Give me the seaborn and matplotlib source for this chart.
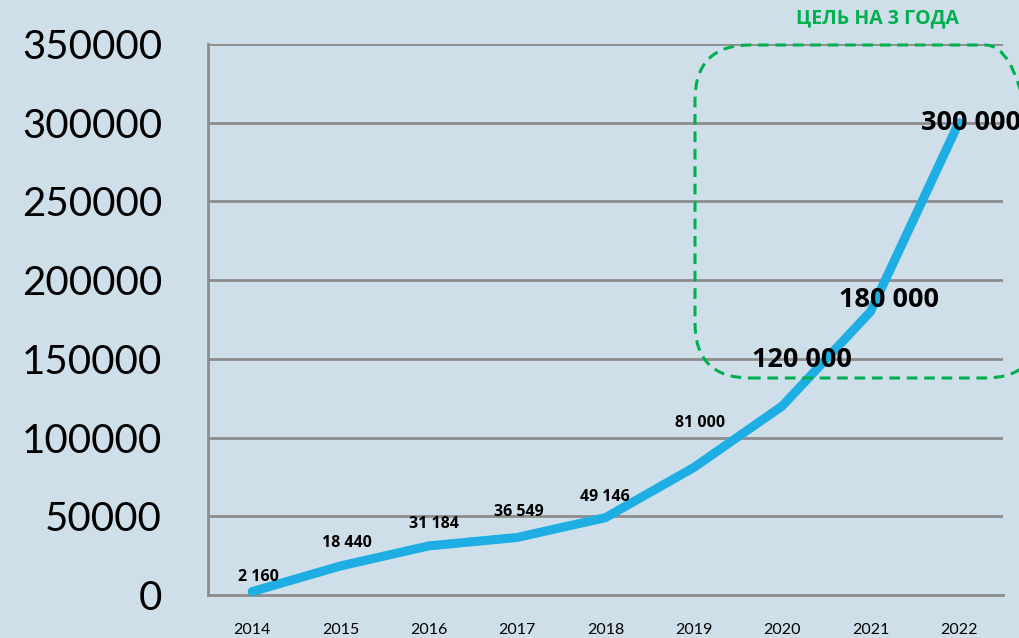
import matplotlib
matplotlib.use("Agg")
import matplotlib.pyplot as plt
import seaborn as sns
import pandas as pd
from matplotlib.patches import FancyBboxPatch
from matplotlib.transforms import IdentityTransform

years = ["2014", "2015", "2016", "2017", "2018", "2019", "2020", "2021", "2022"]
values = [2160, 18440, 31184, 36549, 49146, 81000, 120000, 180000, 300000]
labels = ["2 160", "18 440", "31 184", "36 549", "49 146", "81 000", "120 000", "180 000", "300 000"]
big_label = [False, False, False, False, False, False, True, True, True]
yticks = [0, 50000, 100000, 150000, 200000, 250000, 300000, 350000]
goal_text = "ЦЕЛЬ НА 3 ГОДА"

sns.set_theme(style="white")
plt.rcParams["font.family"] = ["Lato", "DejaVu Sans"]

bg = "#cfdfe9"
grid_c = "#8c8c8c"
line_c = "#1eaee4"
green = "#00b050"
bold_font = ["Open Sans", "DejaVu Sans"]

fig = plt.figure(figsize=(10.2, 6.38), dpi=100, facecolor=bg)
ax = fig.add_axes([208/1020, 43/638, (1003-208)/1020, (594-43)/638])
ax.set_facecolor(bg)

df = pd.DataFrame({"pos": range(len(years)), "value": values})
sns.lineplot(data=df, x="pos", y="value", ax=ax, color=line_c, linewidth=6.5,
             solid_capstyle="round", solid_joinstyle="round", clip_on=False, zorder=3)

ax.set_xlim(-0.5, len(years) - 0.5)
ax.set_ylim(0, 350000)
ax.set_yticks(yticks)
ax.set_yticklabels([str(v) for v in yticks], fontsize=29)
ax.set_xticks(range(len(years)))
ax.set_xticklabels(years, fontsize=11.5)
ax.set_xticks([i - 0.5 for i in range(len(years) + 1)], minor=True)
ax.tick_params(axis="x", which="major", length=0, pad=20, colors="black")
ax.tick_params(axis="x", which="minor", length=6, width=2, color=grid_c, direction="out")
ax.tick_params(axis="y", which="major", length=7, width=2, color=grid_c, pad=26, colors="black")
ax.tick_params(axis="y", which="major", color=grid_c)
ax.set_xlabel("")
ax.set_ylabel("")

for yv in yticks[1:]:
    ax.axhline(yv, color=grid_c, linewidth=2, zorder=1)
for side in ["top", "right"]:
    ax.spines[side].set_visible(False)
for side in ["left", "bottom"]:
    ax.spines[side].set_color(grid_c)
    ax.spines[side].set_linewidth(2)

offsets = [(6, 15), (6, 23), (5, 22), (2, 25), (-1, 21), (6, 44), (20, 46), (19, 12), (12, 0)]
for i, (lab, v) in enumerate(zip(labels, values)):
    dx, dy = offsets[i]
    ax.annotate(lab, (i, v), xytext=(dx, dy), textcoords="offset pixels",
                ha="center", va="center", fontweight="bold", family=bold_font,
                fontsize=19.5 if big_label[i] else 11.5, color="black",
                zorder=5, annotation_clip=False)

# dashed rounded goal box (pixel coordinates)
box = FancyBboxPatch((695 + 55, 260 + 55), 1040 - 695 - 110, 593 - 260 - 110,
                     boxstyle="round,pad=55", transform=IdentityTransform(),
                     fill=False, edgecolor=green, linewidth=2.2,
                     linestyle=(0, (3.5, 2.2)), zorder=4)
fig.add_artist(box)
fig.text(877/1020, 1 - 18/638, goal_text, color=green, fontsize=14,
         fontweight="bold", family=bold_font, ha="center", va="center")

fig.savefig("out.png", dpi=100, facecolor=bg)
